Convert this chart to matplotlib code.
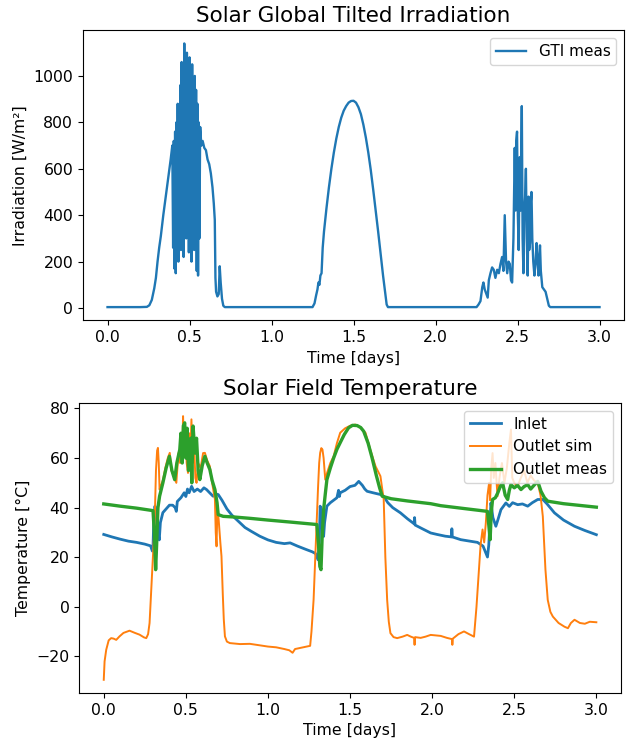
import numpy as np
import matplotlib
matplotlib.use("Agg")
import matplotlib.pyplot as plt

# ---- Solar global tilted irradiation ----
gti_days = [
    0.000, 0.100, 0.200, 0.240, 0.255, 0.270, 0.285, 0.295, 0.305, 0.315,
    0.325, 0.340, 0.355, 0.370, 0.385, 0.395, 0.400, 0.404, 0.408, 0.412,
    0.416, 0.420, 0.424, 0.428, 0.432, 0.436, 0.440, 0.444, 0.448, 0.452,
    0.456, 0.460, 0.464, 0.468, 0.472, 0.476, 0.480, 0.484, 0.488, 0.492,
    0.496, 0.500, 0.504, 0.508, 0.512, 0.516, 0.520, 0.524, 0.528, 0.532,
    0.536, 0.540, 0.544, 0.548, 0.552, 0.556, 0.560, 0.565, 0.572, 0.580,
    0.590, 0.600, 0.610, 0.620, 0.630, 0.640, 0.648, 0.654, 0.658, 0.662,
    0.670, 0.678, 0.684, 0.690, 0.698, 0.706, 0.715, 1.000, 1.250, 1.262,
    1.272, 1.280, 1.286, 1.292, 1.298, 1.305, 1.312, 1.320, 1.335, 1.350,
    1.365, 1.380, 1.395, 1.410, 1.425, 1.440, 1.455, 1.470, 1.485, 1.500,
    1.515, 1.530, 1.545, 1.560, 1.575, 1.590, 1.605, 1.620, 1.635, 1.650,
    1.665, 1.680, 1.692, 1.702, 1.710, 2.000, 2.250, 2.262, 2.274, 2.285,
    2.292, 2.300, 2.310, 2.318, 2.325, 2.335, 2.345, 2.355, 2.365, 2.376,
    2.386, 2.396, 2.406, 2.414, 2.422, 2.430, 2.437, 2.445, 2.453, 2.460,
    2.467, 2.475, 2.483, 2.488, 2.492, 2.497, 2.502, 2.507, 2.513, 2.518,
    2.526, 2.531, 2.536, 2.541, 2.546, 2.551, 2.556, 2.562, 2.567, 2.571,
    2.576, 2.580, 2.585, 2.590, 2.596, 2.603, 2.610, 2.616, 2.622, 2.628,
    2.633, 2.637, 2.642, 2.651, 2.661, 2.671, 2.681, 2.691, 2.700, 3.000,
]
gti_meas = [
    4, 4, 4, 5, 12, 35, 85, 130, 200, 260,
    310, 400, 480, 560, 640, 700, 260, 720, 170, 760,
    150, 800, 300, 880, 200, 820, 380, 960, 250, 1060,
    400, 1000, 220, 1140, 520, 980, 300, 1100, 420, 1020,
    240, 1080, 560, 940, 200, 1050, 450, 990, 250, 1000,
    380, 940, 160, 880, 140, 800, 300, 780, 700, 720,
    690, 680, 640, 620, 580, 520, 450, 380, 130, 70,
    50, 60, 180, 110, 40, 10, 4, 4, 4, 20,
    55, 80, 110, 100, 140, 150, 260, 330, 430, 520,
    600, 670, 730, 780, 820, 850, 870, 885, 892, 893,
    885, 865, 835, 790, 735, 670, 595, 510, 420, 330,
    235, 140, 70, 15, 4, 4, 4, 15, 30, 90,
    110, 80, 60, 45, 120, 150, 175, 165, 130, 165,
    150, 190, 220, 160, 400, 200, 150, 200, 190, 120,
    110, 300, 690, 420, 720, 760, 400, 250, 650, 420,
    870, 300, 150, 420, 480, 600, 300, 140, 480, 250,
    280, 450, 500, 300, 200, 140, 200, 280, 200, 140,
    220, 270, 160, 90, 80, 70, 40, 10, 4, 4,
]

# ---- Solar field temperatures ----
inlet_days = [
    0.000, 0.050, 0.100, 0.150, 0.200, 0.250, 0.285, 0.296, 0.300, 0.305,
    0.312, 0.320, 0.330, 0.338, 0.345, 0.360, 0.380, 0.400, 0.420, 0.435,
    0.442, 0.448, 0.470, 0.490, 0.500, 0.510, 0.520, 0.535, 0.550, 0.570,
    0.590, 0.610, 0.626, 0.645, 0.666, 0.680, 0.697, 0.720, 0.750, 0.780,
    0.820, 0.860, 0.900, 0.950, 1.000, 1.050, 1.100, 1.135, 1.180, 1.230,
    1.270, 1.290, 1.305, 1.312, 1.318, 1.325, 1.332, 1.339, 1.345, 1.359,
    1.380, 1.400, 1.420, 1.430, 1.435, 1.440, 1.470, 1.500, 1.530, 1.553,
    1.575, 1.590, 1.604, 1.640, 1.685, 1.705, 1.730, 1.760, 1.807, 1.850,
    1.890, 1.893, 1.896, 1.940, 1.991, 2.030, 2.080, 2.118, 2.120, 2.123,
    2.174, 2.220, 2.276, 2.310, 2.337, 2.345, 2.358, 2.370, 2.388, 2.400,
    2.419, 2.449, 2.470, 2.490, 2.521, 2.550, 2.582, 2.610, 2.643, 2.674,
    2.700, 2.745, 2.800, 2.867, 2.930, 3.000,
]
inlet_temp = [
    29.2, 28.2, 27.3, 26.5, 26.0, 25.3, 24.6, 22.5, 24.0, 36.0,
    40.6, 37.0, 30.0, 27.0, 34.0, 38.0, 39.5, 41.0, 41.0, 40.0,
    38.5, 42.5, 44.0, 46.0, 44.5, 47.5, 46.0, 48.6, 46.5, 47.5,
    46.5, 48.0, 47.3, 46.0, 44.6, 45.5, 45.3, 43.0, 39.5, 37.0,
    34.5, 32.0, 30.4, 28.5, 27.0, 26.0, 25.5, 25.8, 24.5, 23.2,
    22.2, 21.5, 19.0, 25.0, 40.6, 36.0, 31.0, 28.4, 34.0, 40.6,
    42.0, 43.0, 44.0, 47.0, 44.5, 46.0, 47.0, 48.5, 49.0, 50.6,
    49.0, 47.5, 46.6, 46.0, 45.3, 44.6, 42.0, 40.0, 37.9, 35.5,
    33.5, 36.0, 33.0, 31.5, 29.8, 29.2, 28.5, 28.2, 31.5, 28.2,
    27.1, 26.6, 26.0, 24.5, 20.1, 25.0, 41.9, 36.0, 32.5, 35.0,
    39.2, 41.9, 40.5, 42.0, 41.2, 41.5, 40.6, 42.0, 43.3, 43.3,
    41.5, 37.9, 35.0, 32.5, 30.8, 29.1,
]

sim_days = [
    0.000, 0.005, 0.015, 0.030, 0.045, 0.060, 0.076, 0.096, 0.120, 0.157,
    0.190, 0.218, 0.245, 0.259, 0.270, 0.279, 0.290, 0.300, 0.310, 0.318,
    0.325, 0.330, 0.335, 0.340, 0.350, 0.361, 0.375, 0.390, 0.402, 0.412,
    0.425, 0.442, 0.455, 0.465, 0.472, 0.478, 0.483, 0.490, 0.497, 0.505,
    0.513, 0.520, 0.527, 0.534, 0.542, 0.550, 0.558, 0.565, 0.575, 0.590,
    0.605, 0.616, 0.630, 0.646, 0.660, 0.677, 0.682, 0.687, 0.692, 0.700,
    0.710, 0.717, 0.725, 0.731, 0.738, 0.750, 0.768, 0.830, 0.890, 0.950,
    1.000, 1.050, 1.100, 1.130, 1.150, 1.165, 1.200, 1.257, 1.265, 1.278,
    1.294, 1.305, 1.312, 1.318, 1.325, 1.332, 1.339, 1.349, 1.360, 1.380,
    1.400, 1.420, 1.440, 1.470, 1.500, 1.532, 1.560, 1.594, 1.625, 1.655,
    1.685, 1.705, 1.715, 1.726, 1.736, 1.746, 1.765, 1.787, 1.820, 1.848,
    1.870, 1.890, 1.893, 1.896, 1.930, 1.960, 1.991, 2.052, 2.090, 2.121,
    2.123, 2.126, 2.160, 2.194, 2.225, 2.255, 2.270, 2.286, 2.295, 2.307,
    2.317, 2.327, 2.337, 2.347, 2.353, 2.360, 2.368, 2.375, 2.385, 2.398,
    2.410, 2.425, 2.440, 2.455, 2.470, 2.480, 2.488, 2.500, 2.520, 2.540,
    2.560, 2.580, 2.600, 2.620, 2.643, 2.660, 2.674, 2.690, 2.704, 2.720,
    2.735, 2.770, 2.806, 2.827, 2.845, 2.867, 2.900, 2.930, 2.960, 3.000,
]
sim_temp = [
    -29.4, -22.0, -17.3, -13.5, -12.6, -12.8, -13.3, -11.9, -10.5, -9.6,
    -10.5, -11.2, -12.3, -12.6, -11.0, -6.5, 8.0, 20.4, 33.9, 55.0,
    63.0, 64.1, 58.0, 47.3, 49.0, 51.3, 56.0, 60.0, 62.1, 55.0,
    53.0, 50.0, 62.0, 58.0, 70.0, 60.0, 76.9, 62.0, 72.0, 58.0,
    54.0, 70.0, 60.0, 75.6, 58.0, 66.0, 52.0, 50.0, 58.0, 56.0,
    62.0, 62.1, 59.0, 56.7, 50.0, 43.3, 30.0, 24.4, 40.0, 35.0,
    26.0, 20.4, 5.0, -5.0, -11.9, -14.0, -14.6, -15.0, -14.9, -15.5,
    -16.0, -16.3, -17.0, -17.5, -18.5, -17.0, -16.5, -15.7, -10.0, 2.9,
    29.8, 48.0, 58.0, 62.1, 64.0, 63.4, 60.0, 51.3, 54.0, 58.0,
    60.7, 66.0, 70.2, 72.0, 73.0, 73.5, 72.5, 70.2, 63.0, 56.7,
    52.7, 43.3, 20.0, 2.8, -6.0, -10.6, -12.2, -12.6, -12.0, -11.3,
    -12.0, -12.5, -15.3, -12.2, -12.5, -12.0, -11.3, -11.7, -12.5, -13.0,
    -15.3, -12.8, -11.0, -9.9, -11.0, -12.0, 0.0, 16.3, 25.0, 31.2,
    26.0, 33.9, 45.0, 50.0, 43.0, 56.0, 62.0, 52.0, 58.0, 44.6,
    52.0, 58.0, 50.0, 56.0, 66.0, 71.5, 52.0, 50.0, 48.6, 52.0,
    55.0, 50.0, 53.0, 51.0, 50.0, 45.0, 36.5, 15.0, 2.8, -2.0,
    -3.9, -6.5, -8.0, -8.6, -6.5, -5.2, -6.5, -6.8, -6.0, -6.2,
]

meas_days = [
    0.000, 0.100, 0.200, 0.300, 0.308, 0.316, 0.322, 0.330, 0.340, 0.360,
    0.380, 0.400, 0.415, 0.432, 0.445, 0.463, 0.470, 0.478, 0.485, 0.493,
    0.500, 0.508, 0.516, 0.524, 0.530, 0.536, 0.544, 0.555, 0.565, 0.575,
    0.585, 0.600, 0.616, 0.630, 0.646, 0.660, 0.677, 0.690, 0.697, 0.727,
    0.800, 0.890, 1.000, 1.135, 1.298, 1.308, 1.316, 1.323, 1.330, 1.339,
    1.350, 1.359, 1.380, 1.400, 1.420, 1.440, 1.465, 1.491, 1.515, 1.543,
    1.565, 1.583, 1.610, 1.634, 1.660, 1.680, 1.696, 1.750, 1.850, 1.991,
    2.052, 2.200, 2.337, 2.345, 2.353, 2.360, 2.368, 2.385, 2.400, 2.415,
    2.429, 2.445, 2.460, 2.470, 2.480, 2.500, 2.520, 2.541, 2.560, 2.582,
    2.600, 2.620, 2.643, 2.663, 2.684, 2.704, 2.800, 2.900, 3.000,
]
meas_temp = [
    41.5, 40.6, 39.8, 38.8, 30.0, 15.0, 25.0, 40.0, 44.6, 50.0,
    56.0, 60.7, 55.0, 51.3, 58.0, 63.4, 70.0, 58.0, 73.0, 74.2,
    60.0, 72.0, 55.0, 60.7, 68.0, 50.0, 72.9, 62.0, 68.0, 55.0,
    51.3, 57.0, 60.7, 58.0, 55.4, 51.0, 47.3, 42.0, 37.2, 36.5,
    36.2, 35.7, 35.0, 34.2, 33.2, 25.0, 16.3, 15.0, 28.0, 39.2,
    46.0, 51.3, 56.0, 60.0, 63.5, 66.2, 69.5, 72.2, 73.2, 73.1,
    72.3, 70.8, 66.0, 60.1, 53.0, 48.0, 44.6, 43.6, 42.7, 41.6,
    40.8, 39.6, 38.5, 33.0, 27.1, 38.0, 43.3, 44.0, 46.0, 48.5,
    50.0, 45.0, 43.3, 47.0, 49.3, 48.0, 49.0, 47.3, 48.5, 49.3,
    47.5, 49.0, 50.6, 46.6, 44.0, 42.6, 41.6, 40.9, 40.2,
]


def plot_irradiation(ax):
    ax.plot(gti_days, gti_meas, color="#1f77b4", lw=1.7, label="GTI meas")
    ax.set_title("Solar Global Tilted Irradiation", fontsize=15.5)
    ax.set_xlabel("Time [days]", fontsize=11.3)
    ax.set_ylabel("Irradiation [W/m²]", fontsize=11.3)
    ax.legend(loc="upper right", fontsize=11)


def plot_temperatures(ax):
    ax.plot(inlet_days, inlet_temp, color="#1f77b4", lw=2.0, label="Inlet")
    ax.plot(sim_days, sim_temp, color="#ff7f0e", lw=1.4, label="Outlet sim")
    ax.plot(meas_days, meas_temp, color="#2ca02c", lw=2.4, label="Outlet meas")
    ax.set_title("Solar Field Temperature", fontsize=15.5)
    ax.set_xlabel("Time [days]", fontsize=11.3)
    ax.set_ylabel("Temperature [°C]", fontsize=11.3)
    ax.legend(loc="upper right", fontsize=11)


def main():
    fig = plt.figure(figsize=(6.33, 7.38), dpi=100)
    ax1 = fig.add_axes([0.131, 0.566, 0.855, 0.393])
    ax2 = fig.add_axes([0.125, 0.061, 0.856, 0.393])
    for ax in (ax1, ax2):
        ax.tick_params(labelsize=11.3)
    plot_irradiation(ax1)
    plot_temperatures(ax2)
    fig.savefig("out.png", dpi=100)


if __name__ == '__main__':
    main()
